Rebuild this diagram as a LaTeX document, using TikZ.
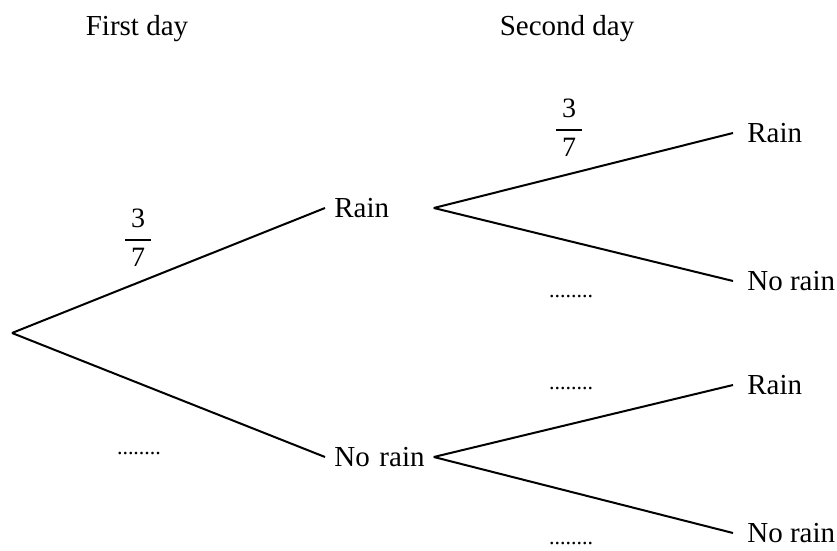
\documentclass[tikz,border=0pt]{standalone}
\usepackage{amsmath}
\usepackage{fontspec}
\setmainfont{Liberation Serif}
\usepackage{tikz}

\begin{document}
\begin{tikzpicture}[x=0.5pt,y=-0.5pt,
        branch/.style={black,line width=1pt},
        outcome/.style={anchor=west,inner sep=7pt,font=\fontsize{14.5}{17}\selectfont},
        firstout/.style={outcome,inner sep=4.5pt,text width=45pt,align=left},
        prob/.style={inner sep=0pt,font=\fontsize{14}{17}\selectfont},
        blank/.style={inner sep=0pt,font=\fontsize{11}{13}\selectfont},
        heading/.style={font=\fontsize{14.5}{17}\selectfont}]
            \useasboundingbox (0,0) rectangle (837,551);
            % headings
            \node[heading] (h1) at (137,29){First day};
            \node[heading] (h2) at (567,29){Second day};

            % first day
            \coordinate (root) at (12,333);
            \node[firstout] (r) at (325,208){Rain};
            \node[firstout] (n) at (325,457){No~rain};
            \draw[branch](root) -- (r.west);
            \draw[branch](root) -- (n.west);
            \node[prob] (p1) at (138,238){$\dfrac{\hspace{3pt}\text{3}\hspace{3pt}}{\text{7}}$};
            \node[blank] (b1) at (139,454){........};

            % second day
            \node[outcome] (rr) at (733,133){Rain};
            \node[outcome] (rn) at (733,281){No rain};
            \node[outcome] (nr) at (733,385){Rain};
            \node[outcome] (nn) at (733,533){No rain};
            \draw[branch](r.east) -- (rr.west);
            \draw[branch](r.east) -- (rn.west);
            \draw[branch](n.east) -- (nr.west);
            \draw[branch](n.east) -- (nn.west);
            \node[prob] (p2) at (569,128){$\dfrac{\hspace{3pt}\text{3}\hspace{3pt}}{\text{7}}$};
            \node[blank] (b2) at (571,297){........};
            \node[blank] (b3) at (571,389){........};
            \node[blank] (b4) at (571,544){........};
        \end{tikzpicture}
\end{document}
